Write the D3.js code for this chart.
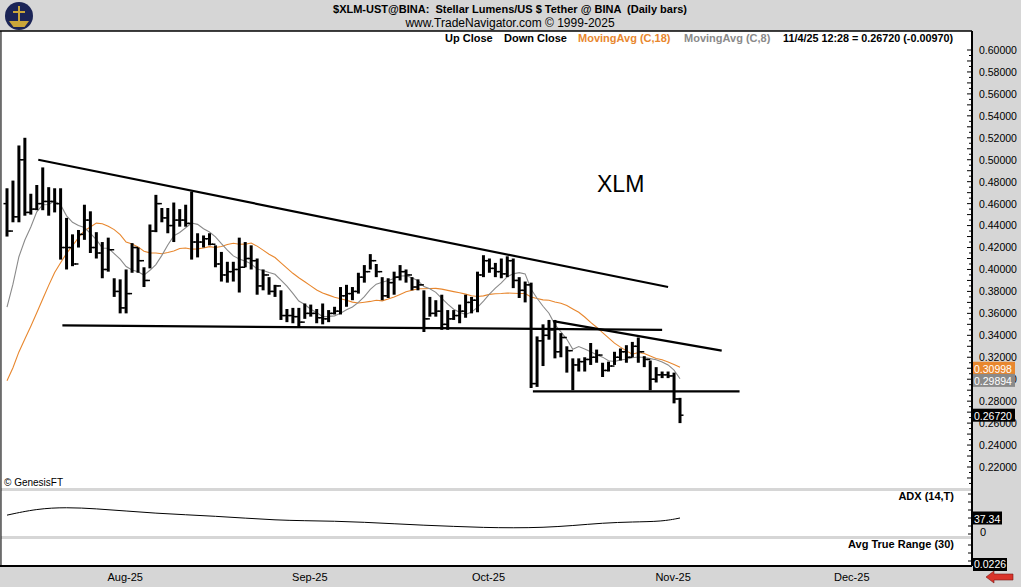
<!DOCTYPE html>
<html><head><meta charset="utf-8">
<script src="https://cdn.jsdelivr.net/npm/d3@7"></script>
<style>body{margin:0;background:#d6d6d6}svg{display:block}text{font-family:"Liberation Sans",Arial,sans-serif}</style>
</head><body><svg id="c" width="1021" height="587"></svg>
<script>
const firstDate = "2025-07-14";
const highs = [.474,.481,.513,.520,.469,.477,.493,.475,.474,.474,.447,.432,.436,.459,.453,.434,.425,.429,.392,.391,.400,.424,.420,.402,.441,.468,.456,.456,.461,.455,.459,.471,.433,.431,.433,.422,.416,.407,.407,.429,.425,.422,.410,.400,.393,.386,.381,.364,.365,.365,.369,.368,.364,.369,.363,.366,.384,.386,.384,.397,.404,.414,.405,.393,.392,.398,.404,.400,.393,.391,.381,.375,.372,.377,.363,.363,.368,.377,.375,.398,.413,.410,.406,.410,.412,.410,.393,.389,.388,.339,.350,.354,.354,.342,.330,.319,.319,.320,.333,.327,.315,.316,.325,.328,.331,.334,.338,.321,.317,.311,.307,.307,.306,.283];
const lows = [.430,.443,.443,.449,.450,.454,.454,.449,.452,.409,.400,.403,.420,.427,.415,.410,.392,.398,.375,.360,.360,.397,.397,.384,.401,.434,.443,.433,.425,.439,.439,.409,.411,.420,.422,.402,.389,.388,.389,.379,.402,.400,.377,.381,.377,.375,.354,.352,.351,.347,.355,.357,.351,.350,.352,.359,.359,.366,.372,.378,.388,.400,.393,.372,.374,.377,.390,.388,.381,.381,.343,.357,.357,.345,.345,.354,.351,.356,.360,.361,.393,.397,.393,.392,.393,.383,.374,.370,.292,.293,.312,.336,.319,.320,.306,.290,.307,.307,.313,.315,.302,.307,.313,.317,.315,.320,.315,.311,.290,.297,.301,.301,.278,.260];
const closes = [.435,.448,.500,.452,.455,.460,.462,.462,.460,.420,.420,.405,.432,.445,.420,.415,.400,.418,.380,.365,.378,.420,.408,.390,.435,.460,.447,.440,.445,.445,.442,.425,.425,.428,.423,.405,.395,.398,.400,.402,.410,.408,.385,.395,.380,.385,.358,.358,.357,.352,.360,.360,.356,.355,.360,.362,.376,.378,.380,.393,.398,.408,.398,.376,.388,.393,.398,.395,.384,.386,.355,.360,.362,.350,.355,.358,.362,.370,.372,.395,.408,.401,.398,.396,.408,.390,.381,.386,.296,.335,.340,.345,.325,.338,.326,.313,.316,.318,.320,.322,.308,.312,.320,.325,.320,.330,.325,.318,.300,.304,.304,.303,.282,.2672];
const priorCloses = [.235,.24,.24,.245,.24,.235,.24,.25,.26,.265,.28,.30,.33,.36,.35,.41,.46];
const firstOpen = .46;
const adxIdx = [0,5,10,15,20,25,30,35,40,45,50,55,60,65,70,75,80,85,90,95,100,105,110,113];
const adxVals = [45,62,66,62,56,50,46,42,37,32,30,29,26,22,18,15,12,11,12,17,24,27,28,37.34];
const trendlines = [[[5.25,.500],[111,.384]],[[9.3,.349],[110,.345]],[[91.7,.353],[120,.326]],[[88.3,.289],[123,.289]]];
const priceTicks = d3.range(0.22,0.6001,0.02);
const legend = [["Up Close","#000",445],["Down Close","#000",504],["MovingAvg (C,18)","#e8872e",578],["MovingAvg (C,8)","#8a8a8a",684]];
const lastInfo = "11/4/25 12:28 = 0.26720 (-0.00970)";
const tags = [["0.30998",0.30998,"#e8872e"],["0.29894",0.29894,"#8a8a8a"],["0.26720",0.2672,"#000"]];

const svg=d3.select("#c");
const L=1,R=972,T=31,B=566;
svg.append("rect").attr("x",L).attr("y",T).attr("width",R-L).attr("height",B-T).attr("fill","#fff");
[[488,3],[536,3]].forEach(([y,h])=>svg.append("rect").attr("x",L).attr("y",y).attr("width",R-L).attr("height",h).attr("fill","#d6d6d6"));
svg.append("line").attr("x1",R).attr("x2",R).attr("y1",T).attr("y2",B).attr("stroke","#000").attr("stroke-width",2);
svg.append("line").attr("x1",0).attr("x2",R).attr("y1",B).attr("y2",B).attr("stroke","#000").attr("stroke-width",2);
svg.append("line").attr("x1",0).attr("x2",R).attr("y1",T).attr("y2",T).attr("stroke","#000").attr("stroke-width",1.5);
svg.append("line").attr("x1",L).attr("x2",L).attr("y1",T).attr("y2",B).attr("stroke","#000");

const x=d3.scaleLinear().domain([0,113]).range([7,680]);
const y=d3.scaleLinear().domain([0.22,0.60]).range([467,50]);
const d0=new Date(firstDate+"T00:00:00");
const xt=d3.scaleTime().domain([d0,d3.timeDay.offset(d0,113)]).range([7,680]);

const yAxis=d3.axisRight(y).tickValues(priceTicks).tickSize(0).tickFormat(d3.format(".5f"));
const ga=svg.append("g").attr("transform",`translate(${R+7},0)`).call(yAxis);
ga.select(".domain").remove();
ga.selectAll("text").attr("font-size",10.5).attr("fill","#000").attr("x",0);
d3.range(0.205,0.605,0.005).forEach(v=>{
 svg.append("line").attr("x1",R-(Math.round(v*1000)%10===0?5:3)).attr("x2",R).attr("y1",y(v)).attr("y2",y(v)).attr("stroke","#000");});
xt.ticks(d3.timeMonth.every(1)).concat([new Date("2025-12-01T00:00:00")]).forEach(d=>{
 if(d<new Date("2025-08-01T00:00:00"))return;
 const px=xt(d);
 svg.append("text").attr("x",px+11).attr("y",581).attr("text-anchor","middle").attr("font-size",11).text(d3.timeFormat("%b-%y")(d));
});
const all=priorCloses.concat(closes);
function sma(n){return closes.map((c,i)=>{const j=i+priorCloses.length;const s=all.slice(Math.max(0,j-n+1),j+1);return d3.mean(s);});}
const line=d3.line().x((d,i)=>x(i)).y(d=>y(d));
svg.append("path").attr("d",line(sma(18))).attr("fill","none").attr("stroke","#e8872e").attr("stroke-width",1.1);
svg.append("path").attr("d",line(sma(8))).attr("fill","none").attr("stroke","#8a8a8a").attr("stroke-width",1.1);
closes.forEach((c,i)=>{const o=i?closes[i-1]:firstOpen;const px=x(i);
 svg.append("line").attr("x1",px).attr("x2",px).attr("y1",y(highs[i])).attr("y2",y(lows[i])).attr("stroke","#000").attr("stroke-width",3);
 svg.append("line").attr("x1",px-3.5).attr("x2",px).attr("y1",y(o)).attr("y2",y(o)).attr("stroke","#000").attr("stroke-width",1.5);
 svg.append("line").attr("x1",px).attr("x2",px+3.5).attr("y1",y(c)).attr("y2",y(c)).attr("stroke","#000").attr("stroke-width",1.5);
});
trendlines.forEach(t=>svg.append("line").attr("x1",x(t[0][0])).attr("y1",y(t[0][1])).attr("x2",x(t[1][0])).attr("y2",y(t[1][1])).attr("stroke","#000").attr("stroke-width",2.2));
tags.forEach(([t,v,c])=>{svg.append("rect").attr("x",R+1).attr("y",y(v)-6.5).attr("width",42).attr("height",13).attr("fill",c);
 svg.append("text").attr("x",R+2).attr("y",y(v)+4.5).attr("font-size",10.5).attr("fill","#fff").text(t);});
const ya=d3.scaleLinear().domain([0,37.34]).range([532,518]);
svg.append("path").attr("d",d3.line().curve(d3.curveBasis).x((d,i)=>x(adxIdx[i])).y(d=>ya(d))(adxVals)).attr("fill","none").attr("stroke","#000").attr("stroke-width",1);
[494,502,510,518,526,534].forEach(v=>svg.append("line").attr("x1",R-4).attr("x2",R).attr("y1",v).attr("y2",v).attr("stroke","#000"));
[545,553,561].forEach(v=>svg.append("line").attr("x1",R-4).attr("x2",R).attr("y1",v).attr("y2",v).attr("stroke","#000"));
svg.append("rect").attr("x",R+1).attr("y",ya(37.34)-6.5).attr("width",29).attr("height",13).attr("fill","#000");
svg.append("text").attr("x",R+2).attr("y",ya(37.34)+4.5).attr("font-size",10.5).attr("fill","#fff").text("37.34");
svg.append("text").attr("x",R+8).attr("y",ya(0)+4).attr("font-size",11).text("0");
svg.append("rect").attr("x",R+1).attr("y",558).attr("width",34).attr("height",13).attr("fill","#000");
svg.append("text").attr("x",R+2).attr("y",568).attr("font-size",10.5).attr("fill","#fff").text("0.0226");
svg.append("text").attr("x",954).attr("y",500).attr("text-anchor","end").attr("font-size",11).attr("font-weight","bold").text("ADX (14,T)");
svg.append("text").attr("x",954).attr("y",548).attr("text-anchor","end").attr("font-size",11).attr("font-weight","bold").text("Avg True Range (30)");
svg.append("text").attr("x",510).attr("y",13).attr("text-anchor","middle").attr("font-size",11).attr("font-weight","bold").text("$XLM-UST@BINA:  Stellar Lumens/US $ Tether @ BINA  (Daily bars)").attr("xml:space","preserve");
svg.append("text").attr("x",510).attr("y",27).attr("text-anchor","middle").attr("font-size",12).text("www.TradeNavigator.com © 1999-2025");
legend.forEach(([t,c,lx])=>svg.append("text").attr("x",lx).attr("y",42).attr("font-size",11).attr("font-weight","bold").attr("fill",c).text(t));
svg.append("text").attr("x",783).attr("y",42).attr("font-size",11).attr("font-weight","bold").attr("textLength",170).attr("lengthAdjust","spacingAndGlyphs").text(lastInfo);
svg.append("text").attr("x",597).attr("y",192).attr("font-size",23).text("XLM");
svg.append("text").attr("x",4).attr("y",486).attr("font-size",10).text("© GenesisFT");
svg.append("circle").attr("cx",19).attr("cy",16).attr("r",14).attr("fill","#1b2456");
svg.append("path").attr("d","M11,22 L27,22 L24,26 L14,26 Z M19,6 L19,22 M13,12 L25,12").attr("stroke","#c9a53a").attr("stroke-width",2).attr("fill","#c9a53a");
svg.append("path").attr("d","M986,577 L994,571 L994,574 L1013,574 L1013,580 L994,580 L994,583 Z").attr("fill","#d9342b").attr("stroke","#7a1a14").attr("stroke-width",.6);
</script></body></html>
